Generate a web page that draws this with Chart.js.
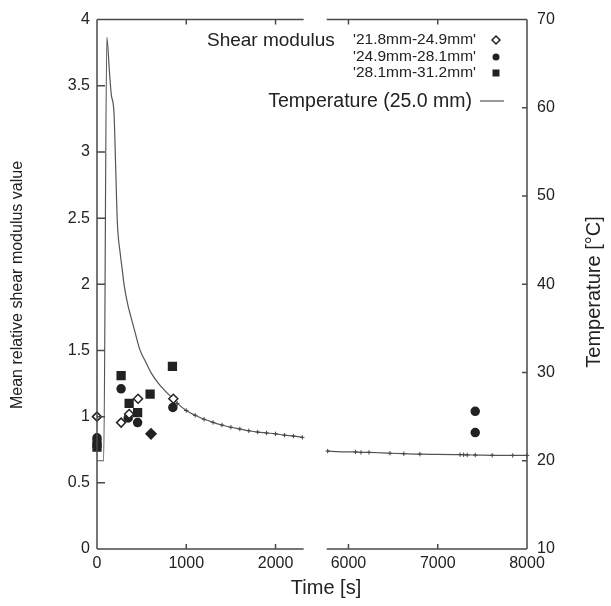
<!DOCTYPE html>
<html>
<head>
<meta charset="utf-8">
<script src="https://cdn.jsdelivr.net/npm/chart.js@4/dist/chart.umd.min.js"></script>
<style>
  html, body { margin: 0; padding: 0; background: #fff; }
</style>
</head>
<body>
<canvas id="chart" width="611" height="606"></canvas>
<script>
// the time axis is broken between breakLo and breakHi (gap given in axis units)
const breakLo = 2315;
const breakHi = 5756;
const breakGap = 258;

const xTickValues = [0, 1000, 2000, 6000, 7000, 8000];
const modulusTicks = [0, 0.5, 1, 1.5, 2, 2.5, 3, 3.5, 4];
const tempTicks = [10, 20, 30, 40, 50, 60, 70];

// temperature at 25.0 mm
const tempTime = [0, 75, 110, 140, 160, 190, 210, 228, 260, 281, 303, 338, 380, 428, 480, 540, 610, 690, 766, 855,
    900, 1000, 1100, 1200, 1300, 1400, 1500, 1600, 1700, 1800, 1900, 2000, 2100, 2200, 2300,
    5767, 6080, 6140, 6230, 6465, 6620, 6800, 7250, 7290, 7330, 7420, 7610, 7840, 8000];
const tempValue = [20, 20, 68, 64, 61.5, 59.5, 53, 47, 43.5, 41.8, 40, 38, 36.3, 34.5, 32.6, 31.3, 29.9, 28.75, 27.9, 27.0,
    26.5, 25.7, 25.15, 24.7, 24.35, 24.05, 23.8, 23.6, 23.4, 23.25, 23.15, 23.05, 22.9, 22.8, 22.65,
    21.1, 21.0, 20.95, 20.95, 20.85, 20.8, 20.75, 20.7, 20.68, 20.66, 20.65, 20.62, 20.6, 20.6];

// mean relative shear modulus
const s1Time = [0, 270, 360, 460, 855];
const s1Value = [1.0, 0.955, 1.02, 1.135, 1.135];
const s2Time = [0, 270, 350, 455, 850, 7420, 7420];
const s2Value = [0.84, 1.21, 0.99, 0.955, 1.07, 1.04, 0.88];
const s3Time = [0, 0, 270, 360, 455, 595, 845];
const s3Value = [0.80, 0.77, 1.31, 1.10, 1.03, 1.17, 1.38];
const blackDiamondTime = [605];
const blackDiamondValue = [0.87];

const seriesNames = ["'21.8mm-24.9mm'", "'24.9mm-28.1mm'", "'28.1mm-31.2mm'"];
const tempName = 'Temperature (25.0 mm)';

const shift = breakHi - breakLo - breakGap;
const toAxis = t => t <= breakLo ? t : t - shift;
const fromAxis = v => v <= breakLo + 1 ? v : v + shift;

const ink = '#222';
const lineGrey = '#4a4a4a';
const fontFamily = "'Liberation Sans', Arial, sans-serif";

const pts = (ts, vs) => ts.map((t, i) => ({ x: toAxis(t), y: vs[i] }));

const drawMarker = (ctx, style, x, y, r) => {
    ctx.save();
    ctx.lineWidth = 1.5;
    ctx.strokeStyle = ink;
    ctx.fillStyle = ink;
    ctx.beginPath();
    if (style === 'diamond') {
        ctx.moveTo(x, y - r); ctx.lineTo(x + r, y); ctx.lineTo(x, y + r); ctx.lineTo(x - r, y); ctx.closePath();
        ctx.fillStyle = '#fff';
        ctx.fill();
        ctx.stroke();
    } else if (style === 'circle') {
        ctx.arc(x, y, r, 0, Math.PI * 2);
        ctx.fill();
    } else {
        ctx.rect(x - r, y - r, 2 * r, 2 * r);
        ctx.fill();
    }
    ctx.restore();
};

const paperFrame = {
    id: 'paperFrame',
    afterDraw(chart) {
        const { ctx, chartArea: { left, right, top, bottom }, scales: { x, y, y2 } } = chart;
        const xLo = x.getPixelForValue(breakLo);
        const xHi = x.getPixelForValue(toAxis(breakHi));

        ctx.save();
        ctx.strokeStyle = lineGrey;
        ctx.lineWidth = 1.5;
        ctx.beginPath();
        ctx.moveTo(left, top); ctx.lineTo(left, bottom);
        ctx.moveTo(right, top); ctx.lineTo(right, bottom);
        ctx.moveTo(left, top); ctx.lineTo(xLo, top);
        ctx.moveTo(xHi, top); ctx.lineTo(right, top);
        ctx.moveTo(left, bottom); ctx.lineTo(xLo, bottom);
        ctx.moveTo(xHi, bottom); ctx.lineTo(right, bottom);

        // inward tick marks
        xTickValues.slice(1, -1).forEach(t => {
            const px = x.getPixelForValue(toAxis(t));
            ctx.moveTo(px, bottom); ctx.lineTo(px, bottom - 5);
            ctx.moveTo(px, top); ctx.lineTo(px, top + 5);
        });
        modulusTicks.slice(1, -1).forEach(v => {
            const py = y.getPixelForValue(v);
            ctx.moveTo(left, py); ctx.lineTo(left + 8, py);
        });
        tempTicks.slice(1, -1).forEach(v => {
            const py = y2.getPixelForValue(v);
            ctx.moveTo(right, py); ctx.lineTo(right - 5, py);
        });
        ctx.stroke();

        // axis titles
        ctx.fillStyle = ink;
        ctx.textAlign = 'center';
        ctx.textBaseline = 'middle';
        ctx.font = `20px ${fontFamily}`;
        ctx.fillText('Time [s]', 326, 588);

        ctx.save();
        ctx.translate(18, 285);
        ctx.rotate(-Math.PI / 2);
        ctx.font = `16px ${fontFamily}`;
        ctx.fillText('Mean relative shear modulus value', 0, 0);
        ctx.restore();

        ctx.save();
        ctx.translate(594, 292);
        ctx.rotate(-Math.PI / 2);
        ctx.font = `20px ${fontFamily}`;
        ctx.fillText('Temperature [°C]', 0, 0);
        ctx.restore();

        // legend
        ctx.textAlign = 'left';
        ctx.font = `19px ${fontFamily}`;
        ctx.fillText('Shear modulus', 207, 41);

        ctx.textAlign = 'right';
        ctx.font = `15.5px ${fontFamily}`;
        const rows = [40, 57, 73];
        const styles = ['diamond', 'circle', 'square'];
        const sizes = [4, 3.5, 3.5];
        seriesNames.forEach((name, i) => {
            ctx.fillText(name, 476, rows[i]);
            drawMarker(ctx, styles[i], 496, rows[i], sizes[i]);
        });

        ctx.font = `19.5px ${fontFamily}`;
        ctx.fillText(tempName, 472, 102);
        ctx.strokeStyle = '#555';
        ctx.lineWidth = 1.2;
        ctx.beginPath();
        ctx.moveTo(480, 101); ctx.lineTo(504, 101);
        ctx.stroke();
        ctx.restore();
    }
};

const scatterSet = (label, data, style, radius, fill) => ({
    label,
    data,
    showLine: false,
    pointStyle: style,
    pointRadius: radius,
    pointBackgroundColor: fill,
    pointBorderColor: ink,
    pointBorderWidth: 1.5,
    yAxisID: 'y',
    clip: false
});

const temperature = {
    label: tempName,
    data: pts(tempTime, tempValue),
    yAxisID: 'y2',
    showLine: true,
    borderColor: '#555',
    borderWidth: 1.2,
    cubicInterpolationMode: 'monotone',
    pointStyle: 'cross',
    pointRadius: ctx => (ctx.raw && fromAxis(ctx.raw.x) >= 900) ? 2.2 : 0,
    pointBorderColor: '#444',
    pointBorderWidth: 1,
    segment: {
        // no line across the axis break
        borderColor: c => (c.p0.parsed.x <= breakLo && c.p1.parsed.x > breakLo) ? 'rgba(0,0,0,0)' : undefined
    },
    clip: false
};

const config = {
    type: 'scatter',
    data: {
        datasets: [
            scatterSet(seriesNames[0], pts(s1Time, s1Value), 'rectRot', 4.5, '#fff'),
            scatterSet(seriesNames[1], pts(s2Time, s2Value), 'circle', 4, ink),
            scatterSet(seriesNames[2], pts(s3Time, s3Value), 'rect', 5.5, ink),
            scatterSet('', pts(blackDiamondTime, blackDiamondValue), 'rectRot', 5, ink),
            temperature
        ]
    },
    plugins: [paperFrame],
    options: {
        responsive: false,
        animation: false,
        layout: { padding: { top: 17, left: 0, right: 0, bottom: 0 } },
        plugins: {
            legend: { display: false },
            tooltip: { enabled: false }
        },
        scales: {
            x: {
                type: 'linear',
                min: 0,
                max: toAxis(8000),
                grid: { display: false, drawTicks: false },
                border: { display: false },
                afterBuildTicks: ax => { ax.ticks = xTickValues.map(t => ({ value: toAxis(t) })); },
                afterFit: s => { s.height = 57; },
                ticks: {
                    padding: 5,
                    maxRotation: 0,
                    autoSkip: false,
                    color: ink,
                    font: { size: 16, family: fontFamily },
                    callback: v => String(Math.round(fromAxis(v)))
                }
            },
            y: {
                position: 'left',
                min: 0,
                max: 4,
                grid: { display: false, drawTicks: false },
                border: { display: false },
                afterBuildTicks: ax => { ax.ticks = modulusTicks.map(v => ({ value: v })); },
                afterFit: s => { s.width = 97; },
                ticks: {
                    padding: 7,
                    color: ink,
                    font: { size: 16, family: fontFamily },
                    callback: v => String(v)
                }
            },
            y2: {
                position: 'right',
                min: 10,
                max: 70,
                grid: { display: false, drawTicks: false },
                border: { display: false },
                afterBuildTicks: ax => { ax.ticks = tempTicks.map(v => ({ value: v })); },
                afterFit: s => { s.width = 84; },
                ticks: {
                    padding: 10,
                    color: ink,
                    font: { size: 16, family: fontFamily },
                    callback: v => String(v)
                }
            }
        }
    }
};

new Chart(document.getElementById('chart'), config);
</script>
</body>
</html>
